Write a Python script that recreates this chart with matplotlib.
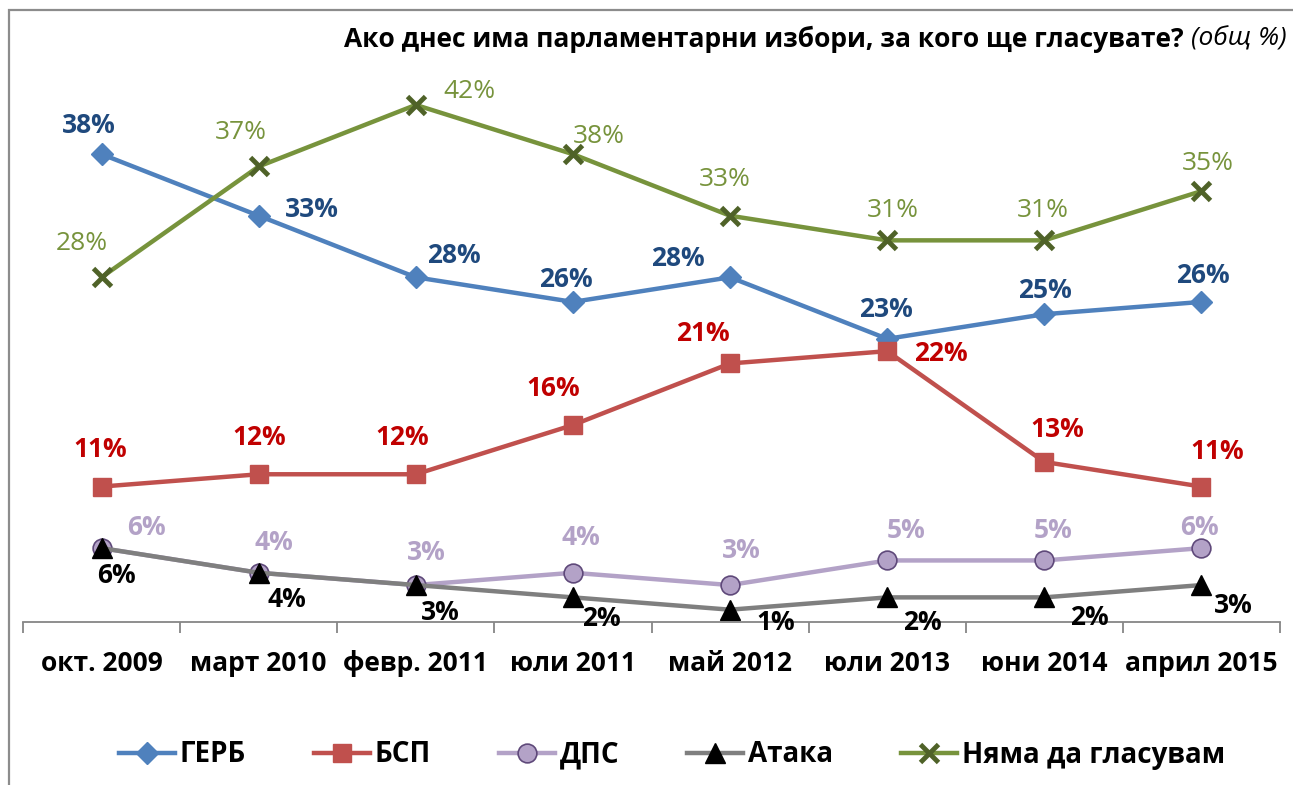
import numpy as np
import matplotlib
matplotlib.use("Agg")
from matplotlib import pyplot as plt
from matplotlib.patches import Rectangle

plt.rcParams['font.family'] = ['Open Sans', 'DejaVu Sans']

#data
periods = ["окт. 2009", "март 2010", "февр. 2011", "юли 2011",
           "май 2012", "юли 2013", "юни 2014", "април 2015"]
gerb = [38, 33, 28, 26, 28, 23, 25, 26]
bsp = [11, 12, 12, 16, 21, 22, 13, 11]
dps = [6, 4, 3, 4, 3, 5, 5, 6]
ataka = [6, 4, 3, 2, 1, 2, 2, 3]
nyama = [28, 37, 42, 38, 33, 31, 31, 35]

#label offsets (pixels, from point) so the labels sit where the original has them
off_gerb = [(-13, 29), (53, 6), (38, 22), (-7, 22), (-52, 19), (-1, 29), (1, 24), (1, 26)]
off_bsp = [(-1, 37), (1, 37), (-14, 37), (-20, 37), (-27, 30), (54, -2), (13, 32), (16, 35)]
off_dps = [(45, 21), (15, 30), (11, 33), (8, 35), (11, 35), (19, 30), (9, 30), (-2, 21)]
off_ataka = [(15, -27), (28, -27), (24, -27), (28, -21), (46, -13), (35, -25), (45, -20), (32, -20)]
off_nyama = [(-20, 34), (-18, 34), (54, 13), (26, 18), (-5, 36), (6, 30), (-2, 30), (6, 28)]

W, H = 1293, 785
fig = plt.figure(figsize=(W/100, H/100), dpi=100)
ax = fig.add_axes([23/W, 163/H, (1280-23)/W, 554/H])

x = np.arange(len(periods))

series = [
    ("ГЕРБ", gerb, dict(color="#4F81BD", marker="D", ms=11, mfc="#4F81BD", mec="#4F81BD"), "#1F497D", "bold", off_gerb),
    ("БСП", bsp, dict(color="#C0504D", marker="s", ms=12.5, mfc="#C0504D", mec="#C0504D"), "#C00000", "bold", off_bsp),
    ("ДПС", dps, dict(color="#B3A2C7", marker="o", ms=13.5, mfc="#B3A2C7", mec="#5F497A", mew=1.2), "#B3A2C7", "bold", off_dps),
    ("Атака", ataka, dict(color="#7F7F7F", marker="^", ms=14, mfc="black", mec="black"), "black", "bold", off_ataka),
    ("Няма да гласувам", nyama, dict(color="#77933C", marker="x", ms=13, mec="#4F6228", mew=3.5), "#77933C", "normal", off_nyama),
]

handles = []
for name, vals, style, lcol, weight, offs in series:
    h, = ax.plot(x, vals, lw=3.2, label=name, clip_on=False, **style)
    handles.append(h)
    for xi, v, (dx, dy) in zip(x, vals, offs):
        ax.annotate("{0}%".format(v), (xi, v), xytext=(dx, dy), textcoords="offset pixels",
                    ha="center", va="center", fontsize=19, color=lcol, fontweight=weight,
                    annotation_clip=False)

#Making the axes look like the Excel original
ax.set_xlim(-0.5, len(periods) - 0.5)
ax.set_ylim(0, 45)
for s in ["left", "top", "right"]:
    ax.spines[s].set_visible(False)
ax.spines["bottom"].set_color("#868686")
ax.spines["bottom"].set_linewidth(1.3)
ax.set_yticks([])
ax.set_xticks(np.arange(-0.5, len(periods)), minor=False)
ax.set_xticklabels([])
ax.set_xticks(x, minor=True)
ax.set_xticklabels(periods, minor=True, fontsize=19, fontweight="bold")
ax.tick_params(axis="x", which="major", length=8, width=1.3, color="#868686", direction="out")
ax.tick_params(axis="x", which="minor", length=0, pad=20)

#frame around the chart (only left/top visible in the original)
fig.patches.append(Rectangle((9/W, -0.05), 1.2, 1.05 - 10/H, transform=fig.transFigure,
                             fill=False, ec="#8C8C8C", lw=1.6))

#title: bold question plus italic note, right aligned
t2 = fig.text(1287/W, 1 - 39/H, "(общ %)", ha="right", va="center",
              fontsize=19, style="italic")
r = fig.canvas.get_renderer()
w2 = t2.get_window_extent(r).width
fig.text((1287 - w2 - 8)/W, 1 - 39/H, "Ако днес има парламентарни избори, за кого ще гласувате?",
         ha="right", va="center", fontsize=19, fontweight="bold")

leg = fig.legend(handles=handles, loc="center", bbox_to_anchor=(672/W, 1 - 755/H), ncol=5,
                 frameon=False, handlelength=2.0, handletextpad=0.18, columnspacing=2.45,
                 prop=dict(size=20, weight="bold"))

fig.savefig("out.png", dpi=100)
